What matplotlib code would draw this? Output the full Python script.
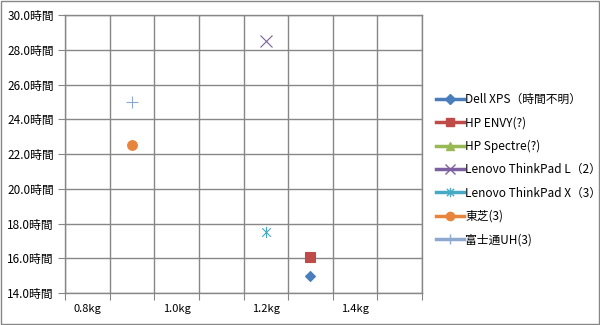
import numpy as np
import matplotlib
matplotlib.use('Agg')
import matplotlib.pyplot as plt
from matplotlib.path import Path
from matplotlib.lines import Line2D

plt.rcParams['font.family'] = ['Noto Sans CJK JP', 'DejaVu Sans']

# データ（重量 kg / バッテリー駆動時間）
names = ["Dell XPS（時間不明）", "HP ENVY(?)", "HP Spectre(?)", "Lenovo ThinkPad L（2）",
         "Lenovo ThinkPad X（3）", "東芝(3)", "富士通UH(3)"]
weights = [1.30, 1.30, np.nan, 1.20, 1.20, 0.90, 0.90]
hours = [15.0, 16.1, np.nan, 28.5, 17.5, 22.5, 25.0]

x_ticks = [0.8, 1.0, 1.2, 1.4]
x_tick_labels = ["0.8kg", "1.0kg", "1.2kg", "1.4kg"]
y_ticks = [14, 16, 18, 20, 22, 24, 26, 28, 30]

colors = ["#4A7EBB", "#BE4B48", "#98B954", "#7D60A0", "#46AAC5", "#E8853D", "#8EA9D0"]

# Excel風のアスタリスク（X＋縦線）
star = Path([(-1, -1), (1, 1), (-1, 1), (1, -1), (0, -1.3), (0, 1.3)],
            [Path.MOVETO, Path.LINETO, Path.MOVETO, Path.LINETO, Path.MOVETO, Path.LINETO])
markers = ["D", "s", "^", "x", star, "o", "+"]
msizes = [5.5, 7, 7, 8, 8, 7, 9]

fig = plt.figure(figsize=(6, 3.25), dpi=100)
ax = fig.add_axes([65 / 600, 32 / 325, 357 / 600, 278 / 325])

for n, w, h, c, m, s in zip(names, weights, hours, colors, markers, msizes):
    ax.plot(w, h, linestyle='none', marker=m, markersize=s, color=c,
            markeredgewidth=0.8, label=n)

ax.set_xlim(0.75, 1.55)
ax.set_ylim(14, 30)

# グリッドは0.1刻み、ラベルは0.2刻み（グリッドの間に表示）
ax.set_xticks(np.arange(0.75, 1.5501, 0.1))
ax.set_xticklabels([])
ax.set_xticks(x_ticks, minor=True)
ax.set_xticklabels(x_tick_labels, minor=True)
ax.set_yticks(y_ticks)
ax.set_yticklabels([f"{v:.1f}時間" for v in y_ticks])

gcol = "#878787"
ax.grid(True, which='major', color=gcol, linewidth=1.0)
ax.tick_params(axis='both', which='major', direction='out', length=5, color=gcol,
               labelsize=8.5, pad=3)
ax.tick_params(axis='x', which='minor', length=0, labelsize=8, pad=8)
for sp in ax.spines.values():
    sp.set_color(gcol)
    sp.set_linewidth(1.0)

handles = [Line2D([], [], color=c, lw=2.5, marker=m, markersize=s * 0.85,
                  markeredgewidth=1.0) for c, m, s in zip(colors, markers, msizes)]
fig.legend(handles, names, loc='upper left', bbox_to_anchor=(431 / 600, 1 - 88 / 325),
           frameon=False, fontsize=8.5, handlelength=2.4, handletextpad=0.1,
           labelspacing=0.88, borderaxespad=0)

fig.patches.append(plt.Rectangle((0.001, 0.002), 0.997, 0.995, transform=fig.transFigure,
                                 fill=False, edgecolor=gcol, linewidth=1.0))

fig.savefig("out.png", dpi=100)
